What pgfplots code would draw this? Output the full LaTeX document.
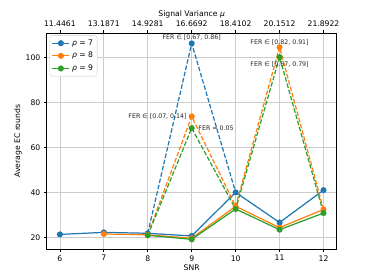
\documentclass[border=0pt]{standalone}
\usepackage{fontspec}
\setmainfont{DejaVu Sans}
\usepackage{pgfplots}
\pgfplotsset{compat=1.18}
\definecolor{tblue}{HTML}{1F77B4}
\definecolor{torange}{HTML}{FF7F0E}
\definecolor{tgreen}{HTML}{2CA02C}
\newcommand{\tickfont}{\fontsize{7.7}{9}\selectfont}
\newcommand{\annfont}{\fontsize{6.3}{7.5}\selectfont}
\pgfplotsset{
  common/.style={
    at={(46.7bp,31bp)}, anchor=south west,
    scale only axis, width=290bp, height=215.7bp,
    xmin=5.7, xmax=12.3, ymin=14.8, ymax=110.8,
    xtick={6,7,8,9,10,11,12},
    tick align=outside,
    major tick length=2.8bp,
    every tick/.style={black, line width=0.65bp},
    axis line style={black, line width=0.65bp},
    tick label style={font=\tickfont},
    label style={font=\tickfont},
    /pgf/number format/assume math mode=true,
  },
  dline/.style={line width=1.22bp, dash pattern=on 4.5bp off 1.95bp, mark=*, mark size=2.4bp, mark options={solid}},
  sline/.style={line width=1.22bp, mark=*, mark size=2.4bp},
}
\begin{document}
\begin{tikzpicture}
\useasboundingbox (0,0) rectangle (374bp,280bp);
\begin{axis}[common,
  ytick={20,40,60,80,100},
  tick pos=left,
  grid=major,
  grid style={line width=0.65bp, color=black!20},
  xlabel={SNR},
  ylabel={Average EC rounds},
  xlabel style={at={(axis description cs:0.5,-0.088)}, anchor=center},
  ylabel style={at={(axis description cs:-0.099,0.5)}, anchor=center},
  legend cell align=left,
  legend style={at={(axis description cs:0.01,0.99)}, anchor=north west,
    draw=black!20, rounded corners=2pt, font=\tickfont,
    row sep=1.5bp, inner sep=2pt},
]
\addplot[sline, color=tblue] coordinates {(6,21.3)(7,22.2)(8,21.8)(9,20.6)(10,40.0)(11,26.6)(12,41.0)};
\addlegendentry{\textit{ρ} = 7}
\addplot[sline, color=torange] coordinates {(7,21.5)(8,21.1)(9,19.6)(10,33.8)(11,24.3)(12,32.4)};
\addlegendentry{\textit{ρ} = 8}
\addplot[sline, color=tgreen] coordinates {(8,20.9)(9,19.1)(10,32.6)(11,23.4)(12,30.8)};
\addlegendentry{\textit{ρ} = 9}
\addplot[dline, color=tblue, mark indices={2}, forget plot] coordinates {(8,21.8)(9,106.3)(10,40.0)};
\addplot[dline, color=torange, mark indices={2,4}, forget plot] coordinates {(8,21.1)(9,73.8)(10,33.8)(11,104.6)(12,32.4)};
\addplot[dline, color=tgreen, mark indices={2,4}, forget plot] coordinates {(8,20.9)(9,68.6)(10,32.6)(11,100.2)(12,30.8)};
\node[font=\annfont, text=black!85, anchor=center] at (axis cs:9,109.1) {FER ∈ [0.67, 0.86]};
\node[font=\annfont, text=black!85, anchor=east, inner sep=0pt] at (axis cs:8.89,73.9) {FER ∈ [0.07, 0.14]};
\node[font=\annfont, text=black!85, anchor=west, inner sep=0pt] at (axis cs:9.15,68.6) {FER = 0.05};
\node[font=\annfont, text=black!85, anchor=center] at (axis cs:11,106.8) {FER ∈ [0.82, 0.91]};
\node[font=\annfont, text=black!85, anchor=center] at (axis cs:11,96.8) {FER ∈ [0.67, 0.79]};
\end{axis}
\begin{axis}[common,
  axis x line*=top,
  hide y axis,
  xticklabels={11.4461,13.1871,14.9281,16.6692,18.4102,20.1512,21.8922},
  xlabel={Signal Variance \textit{μ}},
  xlabel style={at={(axis description cs:0.5,1.0895)}, anchor=center},
]
\end{axis}
\end{tikzpicture}
\end{document}
